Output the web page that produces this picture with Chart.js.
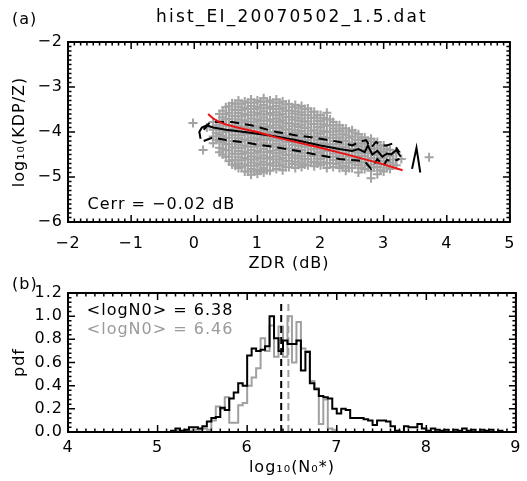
<!DOCTYPE html>
<html lang="en">
<head>
<meta charset="UTF-8">
<title>hist_EI_20070502_1.5.dat</title>
<style>
  body { margin: 0; background: #fff; }
  #wrap { position: relative; width: 527px; height: 481px; }
  canvas { position: absolute; left: 0; }
  #topChart { top: 0; }
  #bottomChart { top: 275px; }
</style>
</head>
<body>
<div id="wrap">
  <canvas id="topChart" width="527" height="275"></canvas>
  <canvas id="bottomChart" width="527" height="206"></canvas>
</div>

<script src="https://cdn.jsdelivr.net/npm/chart.js"></script>
<script>
// ---- panel (a): scatter cloud, one column of y values per x
const cloudX = [0.3, 0.4, 0.5, 0.6, 0.7, 0.8, 0.9, 1.0, 1.1, 1.2, 1.3, 1.4, 1.5, 1.6, 1.7, 1.8,
  1.9, 2.0, 2.1, 2.2, 2.3, 2.4, 2.5, 2.6, 2.7, 2.8, 2.9, 3.0, 3.1, 3.2]
const cloudY = [
  [-3.78, -3.95, -4.1, -4.25],
  [-3.6, -3.75, -3.9, -4.05, -4.2, -4.35, -4.45],
  [-3.45, -3.6, -3.72, -3.86, -4.0, -4.13, -4.27, -4.4, -4.55],
  [-3.36, -3.5, -3.64, -3.78, -3.92, -4.06, -4.2, -4.34, -4.48, -4.62, -4.72],
  [-3.3, -3.44, -3.58, -3.72, -3.86, -4.0, -4.14, -4.28, -4.42, -4.56, -4.7, -4.8],
  [-3.32, -3.46, -3.6, -3.74, -3.88, -4.02, -4.16, -4.3, -4.44, -4.58, -4.72, -4.88],
  [-3.28, -3.42, -3.56, -3.7, -3.84, -3.98, -4.12, -4.26, -4.4, -4.54, -4.68, -4.82, -4.95],
  [-3.3, -3.44, -3.58, -3.72, -3.86, -4.0, -4.14, -4.28, -4.42, -4.56, -4.7, -4.84, -4.93],
  [-3.25, -3.4, -3.54, -3.68, -3.82, -3.96, -4.1, -4.24, -4.38, -4.52, -4.66, -4.8, -4.9],
  [-3.3, -3.44, -3.58, -3.72, -3.86, -4.0, -4.14, -4.28, -4.42, -4.56, -4.7, -4.86],
  [-3.28, -3.42, -3.56, -3.7, -3.84, -3.98, -4.12, -4.26, -4.4, -4.54, -4.68, -4.82],
  [-3.32, -3.46, -3.6, -3.74, -3.88, -4.02, -4.16, -4.3, -4.44, -4.58, -4.72, -4.85],
  [-3.38, -3.52, -3.66, -3.8, -3.94, -4.08, -4.22, -4.36, -4.5, -4.64, -4.78],
  [-3.4, -3.54, -3.68, -3.82, -3.96, -4.1, -4.24, -4.38, -4.52, -4.66, -4.8],
  [-3.42, -3.56, -3.7, -3.84, -3.98, -4.12, -4.26, -4.4, -4.54, -4.68, -4.78],
  [-3.48, -3.62, -3.76, -3.9, -4.04, -4.18, -4.32, -4.46, -4.6, -4.74],
  [-3.55, -3.68, -3.82, -3.96, -4.1, -4.24, -4.38, -4.52, -4.66, -4.76],
  [-3.62, -3.76, -3.9, -4.04, -4.18, -4.32, -4.46, -4.6, -4.74],
  [-3.57, -3.72, -3.86, -4.0, -4.14, -4.28, -4.42, -4.56, -4.7, -4.8],
  [-3.78, -3.92, -4.06, -4.2, -4.34, -4.48, -4.62, -4.78],
  [-3.85, -3.98, -4.12, -4.26, -4.4, -4.54, -4.68, -4.8],
  [-3.92, -4.06, -4.2, -4.34, -4.48, -4.62, -4.76, -4.86],
  [-3.96, -4.1, -4.24, -4.38, -4.52, -4.66, -4.8],
  [-4.05, -4.18, -4.32, -4.46, -4.6, -4.74, -4.9],
  [-4.12, -4.26, -4.4, -4.54, -4.68, -4.82],
  [-4.15, -4.3, -4.44, -4.58, -4.72, -4.86, -5.03],
  [-4.22, -4.36, -4.5, -4.64, -4.78, -4.94],
  [-4.3, -4.44, -4.58, -4.72, -4.88],
  [-4.4, -4.54, -4.68, -4.82],
  [-4.45, -4.6, -4.74]
]
// second set of columns lying between the first ones
const cloudX2 = [0.35, 0.45, 0.55, 0.65, 0.75, 0.85, 0.95, 1.05, 1.15, 1.25, 1.35, 1.45, 1.55, 1.65,
  1.75, 1.85, 1.95, 2.05, 2.15, 2.25, 2.35, 2.45, 2.55, 2.65, 2.75, 2.85, 2.95, 3.05, 3.15]
const cloudY2 = [
  [-3.85, -4.02, -4.17],
  [-3.53, -3.67, -3.81, -3.95, -4.09, -4.23, -4.37, -4.5],
  [-3.43, -3.57, -3.71, -3.85, -3.99, -4.13, -4.27, -4.41, -4.55, -4.65],
  [-3.37, -3.51, -3.65, -3.79, -3.93, -4.07, -4.21, -4.35, -4.49, -4.63, -4.75],
  [-3.37, -3.51, -3.65, -3.79, -3.93, -4.07, -4.21, -4.35, -4.49, -4.63, -4.77],
  [-3.35, -3.49, -3.63, -3.77, -3.91, -4.05, -4.19, -4.33, -4.47, -4.61, -4.75, -4.88],
  [-3.35, -3.49, -3.63, -3.77, -3.91, -4.05, -4.19, -4.33, -4.47, -4.61, -4.75, -4.88],
  [-3.33, -3.47, -3.61, -3.75, -3.89, -4.03, -4.17, -4.31, -4.45, -4.59, -4.73, -4.86],
  [-3.33, -3.47, -3.61, -3.75, -3.89, -4.03, -4.17, -4.31, -4.45, -4.59, -4.73, -4.85],
  [-3.35, -3.49, -3.63, -3.77, -3.91, -4.05, -4.19, -4.33, -4.47, -4.61, -4.75],
  [-3.35, -3.49, -3.63, -3.77, -3.91, -4.05, -4.19, -4.33, -4.47, -4.61, -4.75],
  [-3.39, -3.53, -3.67, -3.81, -3.95, -4.09, -4.23, -4.37, -4.51, -4.65, -4.78],
  [-3.45, -3.59, -3.73, -3.87, -4.01, -4.15, -4.29, -4.43, -4.57, -4.71],
  [-3.47, -3.61, -3.75, -3.89, -4.03, -4.17, -4.31, -4.45, -4.59, -4.73],
  [-3.49, -3.63, -3.77, -3.91, -4.05, -4.19, -4.33, -4.47, -4.61, -4.72],
  [-3.55, -3.69, -3.83, -3.97, -4.11, -4.25, -4.39, -4.53, -4.67],
  [-3.62, -3.75, -3.89, -4.03, -4.17, -4.31, -4.45, -4.59, -4.7],
  [-3.69, -3.83, -3.97, -4.11, -4.25, -4.39, -4.53, -4.67],
  [-3.72, -3.85, -3.99, -4.13, -4.27, -4.41, -4.55, -4.69],
  [-3.85, -3.99, -4.13, -4.27, -4.41, -4.55, -4.71],
  [-3.92, -4.05, -4.19, -4.33, -4.47, -4.61, -4.75],
  [-3.99, -4.13, -4.27, -4.41, -4.55, -4.69, -4.8],
  [-4.03, -4.17, -4.31, -4.45, -4.59, -4.73],
  [-4.12, -4.25, -4.39, -4.53, -4.67, -4.8],
  [-4.2, -4.33, -4.47, -4.61, -4.75],
  [-4.23, -4.37, -4.51, -4.65, -4.79],
  [-4.3, -4.43, -4.57, -4.71, -4.85],
  [-4.37, -4.51, -4.65, -4.79],
  [-4.47, -4.61, -4.72]
]
const outlierX = [-0.02, 0.14, 0.2, 3.28, 3.72]
const outlierY = [-3.8, -4.4, -3.9, -4.6, -4.56]

// red fit
const fitX = [0.22, 0.3, 0.4, 0.5, 0.65, 0.8, 1.0, 1.3, 1.6, 2.0, 2.5, 3.0, 3.3]
const fitY = [-3.6, -3.7, -3.78, -3.83, -3.89, -3.94, -4.0, -4.12, -4.22, -4.35, -4.53, -4.72, -4.85]

// black median (null = break) and dashed spread lines
const medX = [0.1, 0.08, 0.12, 0.2, 0.3, 0.5, 0.8, 1.0, 1.3, 1.6, 2.0, 2.3, 2.5, 2.6, 2.7, 2.75, 2.82,
  2.9, 2.98, 3.05, 3.12, 3.2, 3.27, 3.4, 3.45, 3.52, 3.58]
const medY = [-4.15, -4.0, -3.9, -3.85, -3.9, -3.95, -4.0, -4.04, -4.1, -4.18, -4.3, -4.38, -4.42,
  -4.38, -4.45, -4.3, -4.5, -4.42, -4.55, -4.48, -4.5, -4.4, -4.55, null, -4.82, -4.35, -4.9]
const upX = [0.15, 0.25, 0.4, 0.6, 0.9, 1.3, 1.6, 2.0, 2.3, 2.5, 2.62, 2.72, 2.8, 2.88, 2.95, 3.05, 3.15, 3.25]
const upY = [-3.95, -3.78, -3.78, -3.78, -3.85, -4.0, -4.07, -4.15, -4.22, -4.3, -4.22, -4.18, -4.35,
  -4.22, -4.3, -4.3, -4.25, -4.45]
const lowX = [0.15, 0.3, 0.5, 0.8, 1.0, 1.3, 1.6, 2.0, 2.3, 2.55, 2.7, 2.8, 2.9, 3.0, 3.05, 3.15, 3.25]
const lowY = [-4.2, -4.12, -4.18, -4.23, -4.28, -4.34, -4.41, -4.52, -4.6, -4.63, -4.65, -4.82, -4.6,
  -4.75, -4.62, -4.65, -4.6]

// ---- panel (b): pdf histograms, bins of 0.05 starting at 4.0
const binStart = 4.0
const binWidth = 0.05
const pdfBlack = [
  0, 0, 0, 0, 0, 0, 0, 0, 0, 0,
  0, 0, 0, 0, 0, 0, 0, 0, 0, 0,
  0, 0, 0, 0, 0.01, 0.03, 0.01, 0.02, 0.04, 0.04,
  0.03, 0.05, 0.09, 0.12, 0.13, 0.21, 0.19, 0.29, 0.34, 0.42,
  0.40, 0.66, 0.72, 0.70, 0.71, 0.74, 1.00, 0.81, 0.70, 0.79,
  0.76, 0.76, 0.79, 0.53, 0.69, 0.42, 0.37, 0.31, 0.30, 0.29,
  0.20, 0.16, 0.20, 0.19, 0.12, 0.12, 0.12, 0.11, 0.10, 0.06,
  0.10, 0.10, 0.09, 0.05, 0.01, 0.00, 0.05, 0.04, 0.04, 0.07,
  0.03, 0.01, 0.03, 0.02, 0.01, 0.02, 0.00, 0.02, 0.01, 0.03,
  0.01, 0.02, 0.00, 0.02, 0.01, 0.02, 0.00, 0.01, 0.00, 0.00
]
const pdfGray = [
  0, 0, 0, 0, 0, 0, 0, 0, 0, 0,
  0, 0, 0, 0, 0, 0, 0, 0, 0, 0,
  0, 0, 0, 0, 0, 0.01, 0, 0.02, 0.01, 0.02,
  0.02, 0.03, 0.02, 0.10, 0.22, 0.20, 0.30, 0.08, 0.08, 0.23,
  0.25, 0.40, 0.47, 0.55, 0.81, 0.70, 0.92, 0.65, 0.91, 0.65,
  1.00, 0.60, 0.95, 0.72, 0.70, 0.44, 0.38, 0.07, 0.28, 0.03,
  0.02, 0, 0, 0, 0, 0, 0, 0, 0, 0,
  0, 0, 0, 0, 0, 0, 0, 0, 0, 0,
  0, 0, 0, 0, 0, 0, 0, 0, 0, 0,
  0, 0, 0, 0, 0, 0, 0, 0, 0, 0
]
const meanBlack = 6.38
const meanGray = 6.46
const meanLineTop = 1.12

const FONT = '"DejaVu Sans", sans-serif'
const minus = v => (v < 0 ? '\u2212' + Math.abs(v) : '' + v)

function pts(xs, ys) {
  return xs.map((x, i) => ({ x: x, y: ys[i] }))
}

function histPts(vals) {
  let out = vals.map((v, i) => ({ x: binStart + i * binWidth, y: v }))
  out.push({ x: binStart + vals.length * binWidth, y: vals[vals.length - 1] })
  return out
}

// IDL style frame with inward major and minor ticks on all four sides
const frameTicks = {
  id: 'frameTicks',
  afterDatasetsDraw(chart, args, opts) {
    const { ctx, chartArea: a } = chart
    const sx = chart.scales.x, sy = chart.scales.y
    ctx.save()
    ctx.strokeStyle = '#000'
    ctx.lineWidth = 1.5
    ctx.beginPath()
    function marks(scale, major, minor, horiz) {
      const n = Math.round((scale.max - scale.min) / minor)
      for (let i = 0; i <= n; i++) {
        const v = scale.min + i * minor
        const r = v / major
        const len = Math.abs(r - Math.round(r)) < 1e-6 ? 7 : 3.5
        const p = scale.getPixelForValue(v)
        if (horiz) {
          ctx.moveTo(p, a.bottom); ctx.lineTo(p, a.bottom - len)
          ctx.moveTo(p, a.top); ctx.lineTo(p, a.top + len)
        } else {
          ctx.moveTo(a.left, p); ctx.lineTo(a.left + len, p)
          ctx.moveTo(a.right, p); ctx.lineTo(a.right - len, p)
        }
      }
    }
    marks(sx, opts.xMajor, opts.xMinor, true)
    marks(sy, opts.yMajor, opts.yMinor, false)
    ctx.stroke()
    ctx.lineWidth = 2
    ctx.strokeRect(a.left, a.top, a.right - a.left, a.bottom - a.top)
    ctx.restore()
  }
}

const texts = {
  id: 'texts',
  beforeDraw(chart) {
    chart.ctx.letterSpacing = '1px'
  },
  afterDraw(chart, args, opts) {
    const ctx = chart.ctx
    opts.items.forEach(t => {
      let px = t.x, py = t.y
      if (t.data) {
        px = chart.scales.x.getPixelForValue(t.x)
        py = chart.scales.y.getPixelForValue(t.y)
      }
      ctx.save()
      ctx.font = (t.size || 16) + 'px ' + FONT
      ctx.letterSpacing = t.spacing || '1px'
      ctx.fillStyle = t.color || '#000'
      ctx.textAlign = t.align || 'left'
      ctx.textBaseline = 'middle'
      ctx.fillText(t.text, px, py)
      ctx.restore()
    })
  }
}

const cloud = []
cloudX.forEach((x, i) => cloudY[i].forEach(y => cloud.push({ x: x, y: y })))
cloudX2.forEach((x, i) => cloudY2[i].forEach(y => cloud.push({ x: x, y: y })))
outlierX.forEach((x, i) => cloud.push({ x: x, y: outlierY[i] }))

new Chart(document.getElementById('topChart'), {
  type: 'scatter',
  data: {
    datasets: [
      { data: pts(fitX, fitY), showLine: true, borderColor: '#ee1111', borderWidth: 2, pointRadius: 0 },
      { data: pts(medX, medY), showLine: true, borderColor: '#000', borderWidth: 2, pointRadius: 0, spanGaps: false },
      { data: pts(upX, upY), showLine: true, borderColor: '#000', borderWidth: 2, borderDash: [9, 6], pointRadius: 0 },
      { data: pts(lowX, lowY), showLine: true, borderColor: '#000', borderWidth: 2, borderDash: [9, 6], pointRadius: 0 },
      { data: cloud, pointStyle: 'cross', pointRadius: 4.5, borderColor: '#a3a3a3', borderWidth: 2 }
    ]
  },
  options: {
    responsive: false,
    animation: false,
    events: [],
    layout: { padding: { top: 42, right: 11, left: 0, bottom: 0 } },
    plugins: {
      legend: { display: false },
      tooltip: { enabled: false },
      frameTicks: { xMajor: 1, xMinor: 0.1, yMajor: 1, yMinor: 0.1 },
      texts: {
        items: [
          { text: 'hist_EI_20070502_1.5.dat', x: 292, y: 18, size: 17, spacing: '2.2px', align: 'center' },
          { text: '(a)', x: 12, y: 20, size: 16 },
          { text: 'Cerr = \u22120.02 dB', x: -1.69, y: -5.62, data: true, size: 16 }
        ]
      }
    },
    scales: {
      x: {
        type: 'linear', min: -2, max: 5,
        grid: { display: false, drawTicks: false }, border: { display: false },
        ticks: { stepSize: 1, padding: 12, color: '#000', font: { family: FONT, size: 16 }, callback: minus },
        title: { display: true, text: 'ZDR (dB)', color: '#000', font: { family: FONT, size: 16 }, padding: { top: 0, bottom: 2 } },
        afterFit(s) { s.height = 53 }
      },
      y: {
        type: 'linear', min: -6, max: -2,
        grid: { display: false, drawTicks: false }, border: { display: false },
        ticks: { stepSize: 1, padding: 5, color: '#000', font: { family: FONT, size: 16 }, callback: minus },
        title: { display: true, text: 'log\u2081\u2080(KDP/Z)', color: '#000', font: { family: FONT, size: 16 }, padding: { top: 10, bottom: 0 } },
        afterFit(s) { s.width = 68 }
      }
    }
  },
  plugins: [frameTicks, texts]
})

new Chart(document.getElementById('bottomChart'), {
  type: 'scatter',
  data: {
    datasets: [
      { data: histPts(pdfBlack), showLine: true, stepped: 'after', borderColor: '#000', borderWidth: 2, pointRadius: 0 },
      { data: [{ x: meanBlack, y: 0 }, { x: meanBlack, y: meanLineTop }], showLine: true, borderColor: '#000', borderWidth: 2, borderDash: [7, 4], pointRadius: 0 },
      { data: [{ x: meanGray, y: 0 }, { x: meanGray, y: meanLineTop }], showLine: true, borderColor: '#a0a0a0', borderWidth: 2, borderDash: [7, 4], pointRadius: 0 },
      { data: histPts(pdfGray), showLine: true, stepped: 'after', borderColor: '#a0a0a0', borderWidth: 2, pointRadius: 0 }
    ]
  },
  options: {
    responsive: false,
    animation: false,
    events: [],
    layout: { padding: { top: 18, right: 11, left: 0, bottom: 0 } },
    plugins: {
      legend: { display: false },
      tooltip: { enabled: false },
      frameTicks: { xMajor: 1, xMinor: 0.1, yMajor: 0.2, yMinor: 0.04 },
      texts: {
        items: [
          { text: '(b)', x: 12, y: 10, size: 16 },
          { text: '<logN0> = ' + meanBlack.toFixed(2), x: 4.21, y: 1.05, data: true, size: 16 },
          { text: '<logN0> = ' + meanGray.toFixed(2), x: 4.21, y: 0.88, data: true, size: 16, color: '#9a9a9a' }
        ]
      }
    },
    scales: {
      x: {
        type: 'linear', min: 4, max: 9,
        grid: { display: false, drawTicks: false }, border: { display: false },
        ticks: { stepSize: 1, padding: 6, color: '#000', font: { family: FONT, size: 16 } },
        title: { display: true, text: 'log\u2081\u2080(N\u2080*)', color: '#000', font: { family: FONT, size: 16 }, padding: { top: 0, bottom: 4 } },
        afterFit(s) { s.height = 49 }
      },
      y: {
        type: 'linear', min: 0, max: 1.2,
        grid: { display: false, drawTicks: false }, border: { display: false },
        ticks: { stepSize: 0.2, padding: 5, color: '#000', font: { family: FONT, size: 16 }, callback: v => v.toFixed(1) },
        title: { display: true, text: 'pdf', color: '#000', font: { family: FONT, size: 16 }, padding: { top: 10, bottom: 0 } },
        afterFit(s) { s.width = 68 }
      }
    }
  },
  plugins: [frameTicks, texts]
})
</script>
</body>
</html>
